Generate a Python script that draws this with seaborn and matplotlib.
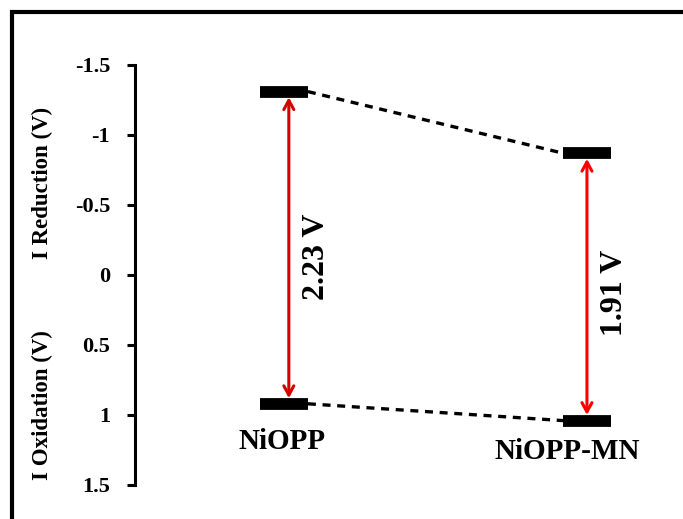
import matplotlib
matplotlib.use("Agg")
import matplotlib.pyplot as plt
import seaborn as sns
import pandas as pd
from matplotlib.patches import Rectangle

# ---- data ----
systems = ["NiOPP", "NiOPP-MN"]
reduction = [-1.31, -0.87]     # V
oxidation = [0.92, 1.04]       # V
gap_labels = ["2.23 V", "1.91 V"]
arrow_colors = ["#d40000", "#ff0000"]
yticks = [-1.5, -1, -0.5, 0, 0.5, 1, 1.5]
ytick_labels = ["-1.5", "-1", "-0.5", "0", "0.5", "1", "1.5"]

sns.set_theme(style="white")
plt.rcParams["font.family"] = ["Liberation Serif", "DejaVu Serif"]
plt.rcParams["font.weight"] = "bold"
plt.rcParams["text.color"] = "black"
plt.rcParams["axes.labelcolor"] = "black"
plt.rcParams["ytick.color"] = "black"
plt.rcParams["xtick.color"] = "black"

W, H = 683, 519
fig = plt.figure(figsize=(W / 100, H / 100), dpi=100)
ax = fig.add_axes([135 / W, 1 - 485 / H, (683 - 135) / W, 420 / H])

x = list(range(len(systems)))
hw = 0.079

# connectors (dashed)
conn = pd.DataFrame({
    "x": [x[0] + hw, x[1] - hw, x[0] + hw, x[1] - hw],
    "y": [reduction[0], reduction[1], oxidation[0], oxidation[1]],
    "kind": ["red", "red", "ox", "ox"],
})
for k in ["red", "ox"]:
    sub = conn[conn["kind"] == k]
    sns.lineplot(data=sub, x="x", y="y", ax=ax, color="black", lw=2.4,
                 linestyle=(0, (2.4, 2.0)), legend=False)

# levels
for i in x:
    ax.hlines([reduction[i], oxidation[i]], i - hw, i + hw, colors="black", lw=8.5)

# arrows
xoffs = [0.016, 0.0]
for i in x:
    ax.annotate("", xy=(i + xoffs[i], reduction[i] + 0.04), xytext=(i + xoffs[i], oxidation[i] - 0.04),
                arrowprops=dict(arrowstyle="<->,head_length=0.55,head_width=0.3",
                                color=arrow_colors[i], lw=2.2, shrinkA=0, shrinkB=0))

# gap labels
ax.text(x[0] + 0.106, -0.13, gap_labels[0], rotation=90, ha="center", va="center",
        fontsize=23, fontweight="bold")
ax.text(x[1] + 0.092, 0.13, gap_labels[1], rotation=90, ha="center", va="center",
        fontsize=23, fontweight="bold")

# system labels
ax.text(x[0] - 0.005, 1.19, systems[0], ha="center", va="center", fontsize=21, fontweight="bold")
ax.text(x[1] - 0.065, 1.26, systems[1], ha="center", va="center", fontsize=21, fontweight="bold")

ax.set_ylim(1.5, -1.5)
ax.set_xlim(-0.4917, 1.317)
ax.set_yticks(yticks)
ax.set_yticklabels(ytick_labels, fontsize=16, fontweight="bold")
ax.set_xticks([])
ax.set_xlabel("")
ax.set_ylabel("")
for s in ["top", "right", "bottom"]:
    ax.spines[s].set_visible(False)
ax.spines["left"].set_color("black")
ax.spines["left"].set_linewidth(2.2)
ax.tick_params(axis="y", direction="out", length=6, width=2.2, pad=12, colors="black", left=True)
ax.patch.set_alpha(0)

fig.text(42 / W, 1 - 183 / H, "I Reduction (V)", rotation=90, ha="center", va="center",
         fontsize=16.5, fontweight="bold")
fig.text(42 / W, 1 - 405 / H, "I Oxidation (V)", rotation=90, ha="center", va="center",
         fontsize=16.5, fontweight="bold")

# outer frame (cropped at right and bottom)
fig.patches.append(Rectangle((12 / W, -0.1), 1.2, 1 - 12 / H + 0.1, transform=fig.transFigure,
                             fill=False, edgecolor="black", lw=3, clip_on=False))

fig.savefig("out.png", dpi=100)
